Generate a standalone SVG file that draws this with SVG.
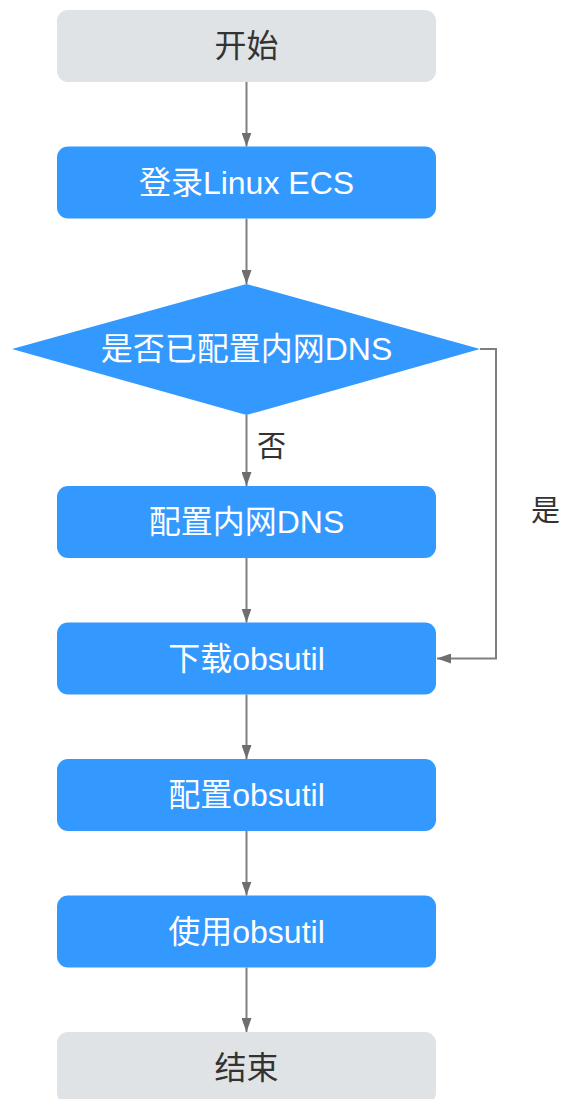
<svg xmlns="http://www.w3.org/2000/svg" width="563" height="1099" viewBox="0 0 563 1099">
  <style>
    .term { fill: #E0E3E5; }
    .proc { fill: #3399FF; }
    .t { font-family: "Liberation Sans", "Noto Sans CJK SC", sans-serif; font-size: 32px; text-anchor: middle; dominant-baseline: central; }
    .tw { fill: #FFFFFF; }
    .td { fill: #333333; }
    .lbl { font-family: "Liberation Sans", "Noto Sans CJK SC", sans-serif; font-size: 29px; fill: #333333; dominant-baseline: central; }
    .edge { fill: none; stroke: #7F7F7F; stroke-width: 2; marker-end: url(#arr); }
  </style>
  <defs>
    <marker id="arr" viewBox="0 0 14 10" refX="14" refY="5" markerWidth="14" markerHeight="10" markerUnits="userSpaceOnUse" orient="auto">
      <path d="M0,0 L14,5 L0,10 Z" fill="#6E6E6E"/>
    </marker>
  </defs>

  <g id="connectors">
    <line class="edge" x1="246.5" y1="82" x2="246.5" y2="146.5"/>
    <line class="edge" x1="246.5" y1="218.5" x2="246.5" y2="284"/>
    <line class="edge" x1="246.5" y1="415" x2="246.5" y2="486"/>
    <line class="edge" x1="246.5" y1="558" x2="246.5" y2="622.5"/>
    <line class="edge" x1="246.5" y1="694.5" x2="246.5" y2="759"/>
    <line class="edge" x1="246.5" y1="831" x2="246.5" y2="895.5"/>
    <line class="edge" x1="246.5" y1="967.5" x2="246.5" y2="1032"/>
    <polyline class="edge" points="480,349 496,349 496,658.5 437,658.5"/>
    <text class="lbl" x="257" y="447">否</text>
    <text class="lbl" x="531" y="511">是</text>
  </g>

  <g id="start">
    <rect class="term" x="57" y="10" width="379" height="72" rx="11"/>
    <text class="t td" x="246.5" y="46">开始</text>
  </g>
  <g id="login">
    <rect class="proc" x="57" y="146.5" width="379" height="72" rx="11"/>
    <text class="t tw" x="246.5" y="182.5">登录Linux ECS</text>
  </g>
  <g id="decision">
    <polygon class="proc" points="246.5,284 480,349 246.5,415 12,349"/>
    <text class="t tw" x="246.5" y="349">是否已配置内网DNS</text>
  </g>
  <g id="config-dns">
    <rect class="proc" x="57" y="486" width="379" height="72" rx="11"/>
    <text class="t tw" x="246.5" y="522">配置内网DNS</text>
  </g>
  <g id="download">
    <rect class="proc" x="57" y="622.5" width="379" height="72" rx="11"/>
    <text class="t tw" x="246.5" y="658.5">下载obsutil</text>
  </g>
  <g id="configure">
    <rect class="proc" x="57" y="759" width="379" height="72" rx="11"/>
    <text class="t tw" x="246.5" y="795">配置obsutil</text>
  </g>
  <g id="use">
    <rect class="proc" x="57" y="895.5" width="379" height="72" rx="11"/>
    <text class="t tw" x="246.5" y="931.5">使用obsutil</text>
  </g>
  <g id="end">
    <rect class="term" x="57" y="1032" width="379" height="72" rx="11"/>
    <text class="t td" x="246.5" y="1068">结束</text>
  </g>
</svg>
